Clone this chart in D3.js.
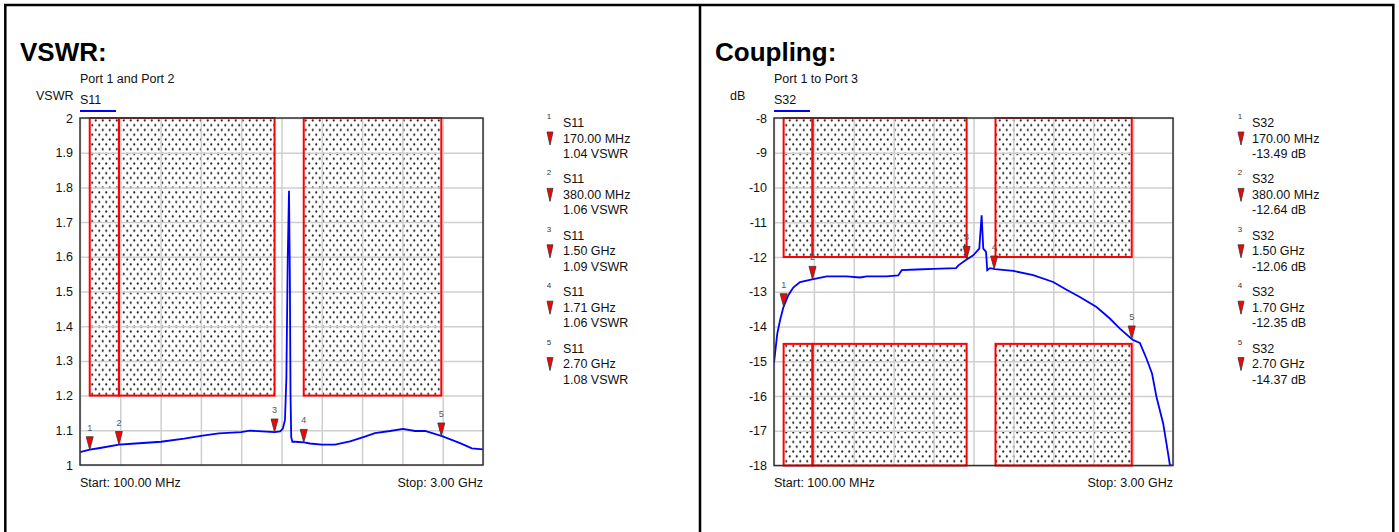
<!DOCTYPE html>
<html>
<head>
<meta charset="utf-8">
<script src="https://cdnjs.cloudflare.com/ajax/libs/d3/7.8.5/d3.min.js"></script>
<style>
  body { margin: 0; background: #fff; }
  svg text { font-family: Arial, "Liberation Sans", sans-serif; }
</style>
</head>
<body>
<div id="chart"></div>
<script>
// ---- data (frequency in MHz) ----
var vswrFreq = [100, 170, 244, 380, 500, 683, 850, 970, 1100, 1258, 1323, 1410, 1500, 1540, 1560, 1575, 1585, 1595, 1604, 1610, 1615, 1620, 1628, 1650, 1712, 1755, 1841, 1935, 2043, 2150, 2222, 2331, 2424, 2511, 2583, 2705, 2835, 2920, 3000];
var vswrValue = [1.037, 1.044, 1.049, 1.059, 1.062, 1.067, 1.076, 1.084, 1.091, 1.095, 1.099, 1.097, 1.095, 1.097, 1.105, 1.13, 1.25, 1.6, 1.79, 1.55, 1.2, 1.08, 1.067, 1.067, 1.065, 1.062, 1.059, 1.059, 1.068, 1.082, 1.092, 1.098, 1.104, 1.098, 1.098, 1.083, 1.063, 1.048, 1.045];

var couplingFreq = [100, 124, 144, 168, 204, 240, 289, 386, 483, 628, 725, 773, 918, 1003, 1028, 1137, 1258, 1423, 1440, 1500, 1548, 1592, 1609, 1621, 1641, 1650, 1670, 1706, 1839, 1984, 2129, 2226, 2323, 2444, 2541, 2614, 2706, 2759, 2807, 2848, 2880, 2929, 2953, 2978, 3000];
var couplingValue = [-15.05, -14.2, -13.82, -13.45, -13.1, -12.88, -12.72, -12.64, -12.56, -12.56, -12.59, -12.56, -12.56, -12.53, -12.38, -12.36, -12.34, -12.32, -12.24, -12.07, -11.95, -11.76, -10.8, -11.76, -11.85, -12.38, -12.32, -12.35, -12.4, -12.52, -12.72, -12.94, -13.15, -13.44, -13.77, -14.06, -14.38, -14.47, -14.92, -15.36, -16.03, -16.8, -17.38, -18, -18];

var vswrTicks = [1, 1.1, 1.2, 1.3, 1.4, 1.5, 1.6, 1.7, 1.8, 1.9, 2];
var vswrTickLabels = ["1", "1.1", "1.2", "1.3", "1.4", "1.5", "1.6", "1.7", "1.8", "1.9", "2"];
var couplingTicks = [-8, -9, -10, -11, -12, -13, -14, -15, -16, -17, -18];
var couplingTickLabels = ["-8", "-9", "-10", "-11", "-12", "-13", "-14", "-15", "-16", "-17", "-18"];

// 10 frequency divisions from start to stop
var gridFreq = [100, 390, 680, 970, 1260, 1550, 1840, 2130, 2420, 2710, 3000];

var vswrMarkerFreq = [170, 380, 1500, 1710, 2700];
var vswrMarkerFreqLabel = ["170.00 MHz", "380.00 MHz", "1.50 GHz", "1.71 GHz", "2.70 GHz"];
var vswrMarkerValueLabel = ["1.04 VSWR", "1.06 VSWR", "1.09 VSWR", "1.06 VSWR", "1.08 VSWR"];

var couplingMarkerFreq = [170, 380, 1500, 1700, 2700];
var couplingMarkerFreqLabel = ["170.00 MHz", "380.00 MHz", "1.50 GHz", "1.70 GHz", "2.70 GHz"];
var couplingMarkerValueLabel = ["-13.49 dB", "-12.64 dB", "-12.06 dB", "-12.35 dB", "-14.37 dB"];

// limit masks: [fromMHz, toMHz, low, high]
var vswrLimits = [[170, 380, 1.2, 2], [380, 1500, 1.2, 2], [1710, 2700, 1.2, 2]];
var couplingLimits = [[170, 380, -12, -8], [380, 1500, -12, -8], [1710, 2700, -12, -8],
                      [170, 380, -18, -14.5], [380, 1500, -18, -14.5], [1710, 2700, -18, -14.5]];

var fullWidth = 1399;
var fullHeight = 532;

var svg = d3.select('#chart').append('svg')
  .attr('width', fullWidth)
  .attr('height', fullHeight);

// dotted fill used inside the limit masks
var defs = svg.append('defs');
var pat = defs.append('pattern')
  .attr('id', 'dots')
  .attr('patternUnits', 'userSpaceOnUse')
  .attr('width', 7)
  .attr('height', 9.6);
pat.append('rect').attr('width', 7).attr('height', 9.6).attr('fill', '#fff');
pat.append('circle').attr('cx', 1.75).attr('cy', 2.4).attr('r', 1.1).attr('fill', '#222');
pat.append('circle').attr('cx', 5.25).attr('cy', 7.2).attr('r', 1.1).attr('fill', '#222');

// page frame: two boxes, no bottom edge in view
svg.append('path')
  .attr('d', 'M5.3,540 V5 H1393.3 V540 M700,5 V540')
  .attr('fill', 'none')
  .attr('stroke', '#000')
  .attr('stroke-width', 2.5);

var panels = [
  {
    id: 'vswr', left: 80, top: 118, width: 403, height: 347,
    title: 'VSWR:', titleX: 20, subtitle: 'Port 1 and Port 2', unit: 'VSWR', trace: 'S11',
    freq: vswrFreq, value: vswrValue, domain: [1, 2],
    ticks: vswrTicks, tickLabels: vswrTickLabels, limits: vswrLimits,
    mFreq: vswrMarkerFreq, mFreqLabel: vswrMarkerFreqLabel, mValueLabel: vswrMarkerValueLabel,
    listTri: 550, listText: 563
  },
  {
    id: 'coupling', left: 774, top: 118, width: 399, height: 347.5,
    title: 'Coupling:', titleX: 715, subtitle: 'Port 1 to Port 3', unit: 'dB', trace: 'S32',
    freq: couplingFreq, value: couplingValue, domain: [-18, -8],
    ticks: couplingTicks, tickLabels: couplingTickLabels, limits: couplingLimits,
    mFreq: couplingMarkerFreq, mFreqLabel: couplingMarkerFreqLabel, mValueLabel: couplingMarkerValueLabel,
    listTri: 1241, listText: 1252
  }
];

panels.forEach(function(p) {
  var x = d3.scaleLinear().domain([100, 3000]).range([0, p.width]);
  var y = d3.scaleLinear().domain(p.domain).range([p.height, 0]);

  // titles
  svg.append('text')
    .attr('x', p.titleX).attr('y', 61)
    .style('font-size', '26px').style('font-weight', 'bold')
    .text(p.title);
  svg.append('text')
    .attr('x', p.left).attr('y', 83)
    .style('font-size', '12.5px').attr('fill', '#111')
    .text(p.subtitle);
  svg.append('text')
    .attr('x', p.left - 44).attr('y', 100)
    .style('font-size', '12.5px').attr('fill', '#111')
    .text(p.unit);
  svg.append('text')
    .attr('x', p.left).attr('y', 104)
    .style('font-size', '12.5px').attr('fill', '#111')
    .text(p.trace);
  svg.append('line')
    .attr('x1', p.left).attr('x2', p.left + 36)
    .attr('y1', 111).attr('y2', 111)
    .attr('stroke', '#0000ff').attr('stroke-width', 2);

  var g = svg.append('g')
    .attr('transform', 'translate(' + p.left + ',' + p.top + ')');

  defs.append('clipPath').attr('id', 'clip-' + p.id)
    .append('rect').attr('width', p.width).attr('height', p.height);

  g.append('rect')
    .attr('width', p.width).attr('height', p.height)
    .attr('fill', '#fff');

  // limit mask fill
  g.selectAll('rect.mask')
      .data(p.limits)
    .enter().append('rect')
      .classed('mask', true)
      .attr('x', function(d) { return x(d[0]); })
      .attr('width', function(d) { return x(d[1]) - x(d[0]); })
      .attr('y', function(d) { return y(d[3]); })
      .attr('height', function(d) { return y(d[2]) - y(d[3]); })
      .attr('fill', 'url(#dots)');

  // grid
  var yGrid = g.append('g')
    .call(d3.axisLeft(y).tickValues(p.ticks).tickSize(-p.width).tickFormat(''));
  yGrid.select('.domain').remove();
  yGrid.selectAll('line').attr('stroke', '#cfcfcf').attr('stroke-width', 1.5);

  var xGrid = g.append('g')
    .attr('transform', 'translate(0,' + p.height + ')')
    .call(d3.axisBottom(x).tickValues(gridFreq).tickSize(-p.height).tickFormat(''));
  xGrid.select('.domain').remove();
  xGrid.selectAll('line').attr('stroke', '#cfcfcf').attr('stroke-width', 1.5);

  // limit outlines
  g.selectAll('rect.limit')
      .data(p.limits)
    .enter().append('rect')
      .classed('limit', true)
      .attr('x', function(d) { return x(d[0]); })
      .attr('width', function(d) { return x(d[1]) - x(d[0]); })
      .attr('y', function(d) { return y(d[3]); })
      .attr('height', function(d) { return y(d[2]) - y(d[3]); })
      .attr('fill', 'none')
      .attr('stroke', '#ff0000')
      .attr('stroke-width', 2);

  // trace
  var pts = p.freq.map(function(f, i) { return [f, p.value[i]]; });
  var line = d3.line()
    .x(function(d) { return x(d[0]); })
    .y(function(d) { return y(d[1]); });
  g.append('path')
    .datum(pts)
    .attr('clip-path', 'url(#clip-' + p.id + ')')
    .attr('d', line)
    .attr('fill', 'none')
    .attr('stroke', '#0000ff')
    .attr('stroke-width', 1.8);

  // frame
  g.append('rect')
    .attr('width', p.width).attr('height', p.height)
    .attr('fill', 'none')
    .attr('stroke', '#333')
    .attr('stroke-width', 1.5);

  // y tick labels
  var yAxis = g.append('g')
    .call(d3.axisLeft(y).tickValues(p.ticks).tickSize(0).tickPadding(7)
      .tickFormat(function(d, i) { return p.tickLabels[i]; }));
  yAxis.select('.domain').remove();
  yAxis.selectAll('text')
    .style('font-size', '12.5px')
    .style('font-family', 'Arial, "Liberation Sans", sans-serif')
    .attr('fill', '#111');

  g.append('text')
    .attr('x', 0).attr('y', 487 - p.top)
    .style('font-size', '12.5px').attr('fill', '#111')
    .text('Start: 100.00 MHz');
  g.append('text')
    .attr('x', p.width).attr('y', 487 - p.top)
    .attr('text-anchor', 'end')
    .style('font-size', '12.5px').attr('fill', '#111')
    .text('Stop: 3.00 GHz');

  // markers sit on the trace at their frequency
  var interp = function(f) {
    var i = d3.bisectLeft(p.freq, f);
    if (i <= 0) return p.value[0];
    var f0 = p.freq[i - 1], f1 = p.freq[i];
    var t = (f - f0) / (f1 - f0);
    return p.value[i - 1] + t * (p.value[i] - p.value[i - 1]);
  };

  var mk = g.selectAll('g.marker')
      .data(p.mFreq)
    .enter().append('g')
      .classed('marker', true)
      .attr('transform', function(f) {
        return 'translate(' + x(f) + ',' + y(interp(f)) + ')';
      });
  mk.append('path')
    .attr('d', 'M-3.5,-13 L3.5,-13 L0,0 Z')
    .attr('fill', '#ff0000')
    .attr('stroke', '#333')
    .attr('stroke-width', 0.8);
  mk.append('text')
    .attr('y', -19)
    .attr('text-anchor', 'middle')
    .style('font-size', '9px')
    .attr('fill', '#555')
    .text(function(f, i) { return i + 1; });

  // marker readout list
  var list = svg.selectAll('g.list-' + p.id)
      .data(p.mFreq)
    .enter().append('g')
      .attr('class', 'list-' + p.id)
      .attr('transform', function(f, i) { return 'translate(0,' + (127 + i * 56.4) + ')'; });
  list.append('text')
    .attr('x', p.listTri - 1).attr('y', -8)
    .attr('text-anchor', 'middle')
    .style('font-size', '8px')
    .attr('fill', '#333')
    .text(function(f, i) { return i + 1; });
  list.append('text')
    .attr('x', p.listText).attr('y', 0)
    .style('font-size', '12.5px').attr('fill', '#111')
    .text(p.trace);
  list.append('text')
    .attr('x', p.listText).attr('y', 15.5)
    .style('font-size', '12.5px').attr('fill', '#111')
    .text(function(f, i) { return p.mFreqLabel[i]; });
  list.append('text')
    .attr('x', p.listText).attr('y', 31)
    .style('font-size', '12.5px').attr('fill', '#111')
    .text(function(f, i) { return p.mValueLabel[i]; });
  list.append('path')
    .attr('transform', 'translate(' + p.listTri + ',5)')
    .attr('d', 'M-3,0 L3,0 L0,13 Z')
    .attr('fill', '#ff0000')
    .attr('stroke', '#333')
    .attr('stroke-width', 0.8);
});
</script>
</body>
</html>
